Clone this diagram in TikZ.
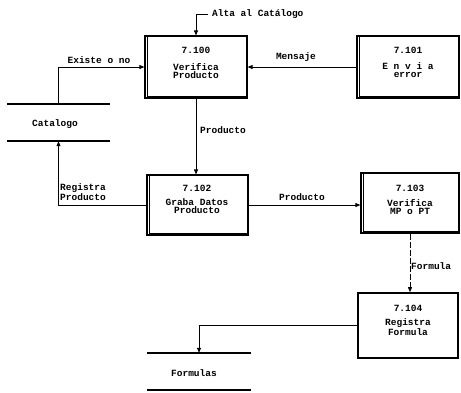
\documentclass[tikz,border=0pt]{standalone}
\usepackage{fontspec}
\setmonofont{Liberation Mono}
\usetikzlibrary{arrows.meta}
\begin{document}
\begin{tikzpicture}[x=1pt,y=-1pt,
  every node/.style={font=\ttfamily\bfseries\fontsize{9.5}{8.5}\selectfont, inner sep=0pt},
  proc/.style={draw, line width=1.2pt, minimum width=#1, minimum height=62pt},
  store/.style={minimum width=103pt, minimum height=37pt},
  arr/.style={line width=0.8pt, -{Triangle[length=5pt,width=4pt]}},
  lbl/.style={align=left},
  boxtxt/.style={align=center}]
\useasboundingbox (0,0) rectangle (461,392);
% processes
\node[proc=102pt] (p0) at (196,67) {};
\node[proc=102pt] (p1) at (408,67) {};
\node[proc=101pt, minimum height=60pt] (p2) at (197.5,205) {};
\node[proc=98pt, minimum height=60pt] (p3) at (410,203) {};
\node[proc=100pt, minimum height=65pt, line width=1.6pt] (p4) at (408,325.5) {};
\foreach \p in {p0,p1,p2,p3}{
  \draw[line width=0.8pt] ([xshift=2.5pt]\p.north west) -- ([shift={(2.5pt,2.5pt)}]\p.south west) -- ([yshift=2.5pt]\p.south east);
}
% box texts
\node (n0) at (196,50) {7.100};
\node[boxtxt] (t0) at (196,71) {Verifica\\Producto};
\node (n1) at (408,50) {7.101};
\node[boxtxt] (t1) at (408,70) {E n v i a\\error};
\node (n2) at (197,188) {7.102};
\node[boxtxt] (t2) at (197,206) {Graba Datos\\Producto};
\node (n3) at (410,188) {7.103};
\node[boxtxt] (t3) at (410,207) {Verifica\\MP o PT};
\node (n4) at (408,308) {7.104};
\node[boxtxt] (t4) at (408,327) {Registra\\Formula};
% stores
\node[store] (cat) at (58.5,122.5) {};
\draw[line width=2.2pt] (cat.north west) -- (cat.north east) (cat.south west) -- (cat.south east);
\node (catt) at (55,124) {Catalogo};
\node[store] (fs) at (199,371.5) {};
\draw[line width=2.2pt] (fs.north west) -- (fs.north east) (fs.south west) -- (fs.south east);
\node (fst) at (194,373) {Formulas};
% connectors
\coordinate (altaS) at (208,14);
\draw[arr] (altaS) -| (p0.north);
\node[anchor=west] (alta) at (212,14) {Alta al Catálogo};
\draw[arr] (cat.north) |- (p0.west);
\node (exi) at (99,60) {Existe o no};
\draw[arr] (p1.west) -- (p0.east);
\node (men) at (296,57) {Mensaje};
\draw[arr] (p0.south) -- (p0.south |- p2.north);
\node[anchor=west] (prv) at (200,130) {Producto};
\draw[arr] (p2.west) -| (cat.south);
\node[anchor=west, lbl] (reg) at (60,192) {Registra\\Producto};
\draw[arr] (p2.east) -- (p2.east -| p3.west);
\node (prh) at (302,197) {Producto};
\draw[arr, dashed, dash pattern=on 6pt off 2pt] (p3.south) -- (p3.south |- p4.north);
\node[anchor=west] (form) at (411,266) {Formula};
\draw[arr] (p4.west) -| (fs.north);
\end{tikzpicture}
\end{document}
